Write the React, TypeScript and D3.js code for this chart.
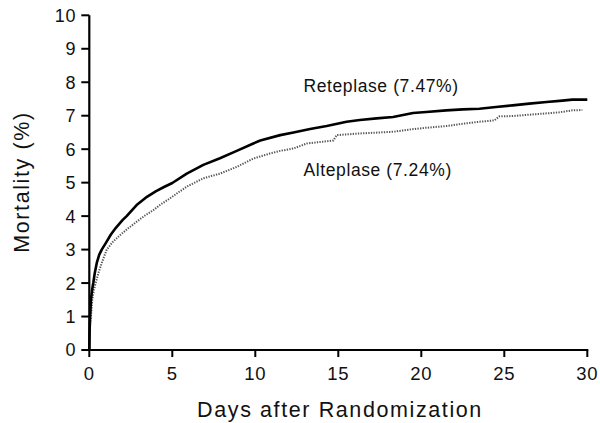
import React from "react";
import * as d3 from "d3";

const reteplaseDays = [0, 0.02, 0.05, 0.1, 0.17, 0.24, 0.33, 0.45, 0.6, 0.75, 1.0, 1.3, 1.6, 2.0, 2.25, 2.85, 3.4, 4.0, 4.5, 5.0, 5.87, 6.87, 7.87, 8.88, 9.88, 10.3, 11.5, 12.3, 13.3, 14.3, 15.5, 16.3, 17.3, 18.3, 19.5, 20.3, 21.5, 22.5, 23.5, 24.5, 25.5, 26.5, 27.55, 28.5, 29.1, 30];
const reteplaseValues = [0, 0.6, 1.0, 1.5, 1.8, 2.0, 2.3, 2.6, 2.85, 3.0, 3.2, 3.45, 3.65, 3.88, 4.0, 4.33, 4.55, 4.74, 4.87, 4.99, 5.27, 5.53, 5.73, 5.95, 6.17, 6.26, 6.42, 6.5, 6.6, 6.69, 6.82, 6.87, 6.92, 6.96, 7.08, 7.11, 7.16, 7.19, 7.21, 7.26, 7.31, 7.36, 7.41, 7.45, 7.48, 7.48];

const alteplaseDays = [0, 0.02, 0.05, 0.1, 0.18, 0.28, 0.38, 0.55, 0.75, 1.05, 1.4, 1.85, 2.3, 2.85, 3.3, 3.86, 4.3, 4.86, 5.4, 5.87, 6.87, 7.87, 8.88, 9.88, 10.88, 11.5, 12.3, 13.1, 14.0, 14.7, 14.9, 16.3, 18.3, 19.5, 20.3, 21.5, 22.5, 23.5, 24.4, 24.7, 25.5, 26.5, 27.55, 28.3, 29.1, 29.7];
const alteplaseValues = [0, 0.4, 0.8, 1.0, 1.5, 1.8, 2.0, 2.3, 2.6, 3.0, 3.22, 3.43, 3.62, 3.83, 4.0, 4.18, 4.35, 4.53, 4.72, 4.88, 5.13, 5.27, 5.47, 5.72, 5.87, 5.95, 6.02, 6.17, 6.22, 6.26, 6.42, 6.47, 6.52, 6.6, 6.64, 6.69, 6.76, 6.82, 6.86, 6.98, 6.99, 7.03, 7.07, 7.1, 7.16, 7.17];

const xTicks = [0, 5, 10, 15, 20, 25, 30];
const yTicks = [0, 1, 2, 3, 4, 5, 6, 7, 8, 9, 10];
const seriesLabels = ["Reteplase (7.47%)", "Alteplase (7.24%)"];
const xTitle = "Days after Randomization";
const yTitle = "Mortality (%)";

const W = 600, H = 423;
const FONT = "'Liberation Sans', Arial, Helvetica, sans-serif";

export default function App() {
  const x = d3.scaleLinear().domain([0, 30]).range([89.3, 587.3]);
  const y = d3.scaleLinear().domain([0, 10]).range([350, 15.3]);
  const line = d3.line<[number, number]>().x(d => x(d[0])).y(d => y(d[1])).curve(d3.curveLinear);
  const ret = line(reteplaseDays.map((d, i) => [d, reteplaseValues[i]] as [number, number])) || "";
  const alt = line(alteplaseDays.map((d, i) => [d, alteplaseValues[i]] as [number, number])) || "";

  return (
    <svg width={W} height={H} style={{ position: "absolute", left: 0, top: 0, background: "#fff" }} fontFamily={FONT} fill="#111">
      <rect width={W} height={H} fill="#fff" />
      <path d={alt} fill="none" stroke="#555" strokeWidth={2} strokeDasharray="1.3 1.3" />
      <path d={ret} fill="none" stroke="#000" strokeWidth={2.6} strokeLinejoin="round" />
      <line x1={x(0)} x2={x(0)} y1={y(10)} y2={y(0) + 1} stroke="#000" strokeWidth={2.2} />
      <line x1={x(0) - 1} x2={x(30) + 1} y1={y(0)} y2={y(0)} stroke="#000" strokeWidth={2.2} />
      {yTicks.map(t => (
        <g key={"y" + t}>
          <line x1={x(0) - 8} x2={x(0)} y1={y(t)} y2={y(t)} stroke="#000" strokeWidth={2} />
          <text x={76} y={y(t)} dy="0.36em" textAnchor="end" fontSize={18} letterSpacing={0.6}>{t}</text>
        </g>
      ))}
      {xTicks.map(t => (
        <g key={"x" + t}>
          <line x1={x(t)} x2={x(t)} y1={y(0)} y2={y(0) + 7} stroke="#000" strokeWidth={2} />
          <text x={x(t)} y={379.5} textAnchor="middle" fontSize={18.5} letterSpacing={0.8}>{t}</text>
        </g>
      ))}
      <text x={303.5} y={91.5} fontSize={17.5} letterSpacing={0.6}>{seriesLabels[0]}</text>
      <text x={303.5} y={175.5} fontSize={17.5} letterSpacing={0.6}>{seriesLabels[1]}</text>
      <text x={340} y={416.5} textAnchor="middle" fontSize={21.5} letterSpacing={1.6}>{xTitle}</text>
      <text transform={`translate(28.5,182) rotate(-90)`} textAnchor="middle" fontSize={21.5} letterSpacing={1.6}>{yTitle}</text>
    </svg>
  );
}
